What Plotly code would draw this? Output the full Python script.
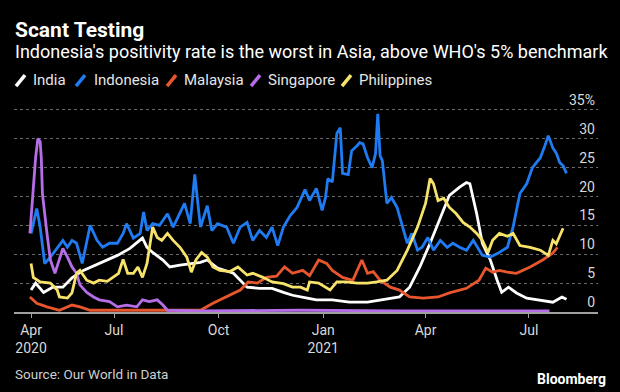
import plotly.graph_objects as go

# ---------------- data ----------------
india_dates = ["2020-04-19","2020-04-23","2020-04-30","2020-05-08","2020-05-17","2020-05-25","2020-06-04","2020-06-18",
               "2020-07-04","2020-07-15","2020-07-21","2020-07-26","2020-07-30","2020-08-04","2020-08-13","2020-08-19",
               "2020-08-28","2020-09-06","2020-09-15","2020-09-21","2020-09-30","2020-10-14","2020-10-26","2020-11-06",
               "2020-11-17","2020-11-27","2020-12-05","2020-12-18","2020-12-26","2021-01-09","2021-01-24","2021-02-09",
               "2021-02-22","2021-03-09","2021-03-18","2021-03-27","2021-04-05","2021-04-14","2021-04-22","2021-05-01",
               "2021-05-07","2021-05-10","2021-05-16","2021-05-21","2021-05-28","2021-06-03","2021-06-07","2021-06-13",
               "2021-06-20","2021-06-29","2021-07-11","2021-07-22","2021-07-30","2021-08-03"]
india_vals = [3.8,5.0,3.4,4.3,4.3,5.9,7.2,8.4,9.8,11.0,11.9,12.8,11.2,10.3,9.0,7.8,8.1,8.4,8.6,9.0,7.6,6.7,4.3,4.1,
              4.1,3.4,2.9,2.4,2.1,2.1,1.7,1.7,2.1,2.6,4.3,7.8,11.9,16.4,20.2,21.6,22.4,22.2,17.0,11.9,9.0,5.5,3.4,4.3,
              3.3,2.4,2.1,1.7,2.6,2.2]

indonesia_dates = ["2020-04-19","2020-04-24","2020-04-27","2020-05-01","2020-05-06","2020-05-17","2020-05-21","2020-05-25",
                   "2020-05-29","2020-06-03","2020-06-10","2020-06-16","2020-06-21","2020-06-27","2020-07-04","2020-07-09",
                   "2020-07-12","2020-07-18","2020-07-24","2020-07-27","2020-07-30","2020-08-04","2020-08-10","2020-08-17",
                   "2020-08-22","2020-08-28","2020-09-01","2020-09-06","2020-09-10","2020-09-15","2020-09-21","2020-09-25",
                   "2020-09-30","2020-10-08","2020-10-14","2020-10-20","2020-10-26","2020-10-31","2020-11-06","2020-11-12",
                   "2020-11-17","2020-11-22","2020-11-27","2020-12-03","2020-12-09","2020-12-16","2020-12-20","2020-12-26",
                   "2020-12-31","2021-01-03","2021-01-05","2021-01-09","2021-01-13","2021-01-16","2021-01-18","2021-01-23",
                   "2021-01-26","2021-01-31","2021-02-02","2021-02-05","2021-02-09","2021-02-13","2021-02-16","2021-02-18",
                   "2021-02-20","2021-02-22","2021-02-26","2021-03-02","2021-03-07","2021-03-11","2021-03-16","2021-03-20",
                   "2021-03-25","2021-03-29","2021-04-03","2021-04-08","2021-04-14","2021-04-20","2021-04-25","2021-05-01",
                   "2021-05-07","2021-05-13","2021-05-17","2021-05-21","2021-05-28","2021-06-04","2021-06-12","2021-06-17",
                   "2021-06-23","2021-06-29","2021-07-04","2021-07-11","2021-07-15","2021-07-18","2021-07-22","2021-07-25",
                   "2021-07-28","2021-07-31","2021-08-03"]
indonesia_vals = [13.6,17.9,14.7,8.4,9.5,12.4,11.2,12.4,11.9,8.4,15.0,12.4,11.2,11.9,11.9,13.6,15.3,12.8,13.6,17.3,14.1,
                  15.3,15.0,17.0,14.7,17.0,18.8,15.3,23.8,14.7,18.4,14.1,15.3,14.7,11.9,14.7,15.5,12.4,14.1,12.9,14.7,11.5,
                  14.7,16.7,18.1,21.2,19.3,21.4,17.6,19.8,23.1,22.5,30.9,31.9,24.0,23.8,27.9,28.8,29.3,29.1,26.7,25.0,27.4,
                  34.3,27.1,26.2,18.8,19.8,18.1,15.3,11.9,13.6,10.7,11.2,12.9,10.7,12.4,11.2,11.9,11.2,10.7,12.4,11.2,9.8,
                  9.5,10.2,11.2,14.7,20.5,22.2,25.0,26.7,28.8,30.5,28.4,27.5,25.9,25.3,24.0]

malaysia_dates = ["2020-04-18","2020-04-24","2020-05-03","2020-05-14","2020-05-25","2020-06-01","2020-06-10","2020-06-27",
                  "2020-08-01","2020-09-15","2020-09-26","2020-10-08","2020-10-20","2020-10-27","2020-11-04","2020-11-12",
                  "2020-11-21","2020-11-28","2020-12-05","2020-12-14","2020-12-20","2020-12-28","2021-01-04","2021-01-09",
                  "2021-01-18","2021-01-27","2021-02-04","2021-02-09","2021-02-14","2021-02-20","2021-03-01","2021-03-09",
                  "2021-03-18","2021-03-30","2021-04-12","2021-04-22","2021-05-07","2021-05-18","2021-05-24","2021-05-30",
                  "2021-06-05","2021-06-12","2021-06-20","2021-07-02","2021-07-13","2021-07-22","2021-07-26"]
malaysia_vals = [2.6,1.5,0.9,0.3,1.2,0.9,0.3,0.3,0.2,0.3,1.5,2.6,3.8,5.2,5.0,6.0,6.2,7.8,6.7,7.2,6.3,9.0,8.4,7.2,6.0,5.5,
                 9.0,6.7,7.0,5.5,4.3,3.8,2.6,2.4,2.6,3.3,4.1,5.5,7.6,6.9,7.2,6.9,6.7,7.8,9.0,10.2,11.2]

singapore_dates = ["2020-04-18","2020-04-21","2020-04-23","2020-04-25","2020-04-27","2020-04-28","2020-04-29","2020-05-03",
                   "2020-05-06","2020-05-10","2020-05-14","2020-05-17","2020-05-21","2020-05-25","2020-05-29","2020-06-01",
                   "2020-06-07","2020-06-13","2020-06-18","2020-06-27","2020-07-04","2020-07-12","2020-07-21","2020-07-26",
                   "2020-08-01","2020-08-08","2020-08-13","2020-08-17","2020-09-15","2020-12-12","2021-03-09","2021-07-19"]
singapore_vals = [13.6,22.2,26.7,30.0,29.5,26.7,20.5,13.6,9.0,6.7,9.0,11.0,9.5,7.8,6.7,4.7,3.4,2.6,2.1,1.8,0.9,1.2,0.9,
                  2.1,1.8,2.1,1.2,0.3,0.2,0.3,0.2,0.2]

philippines_dates = ["2020-04-19","2020-04-21","2020-04-27","2020-05-06","2020-05-12","2020-05-14","2020-05-21","2020-05-25",
                     "2020-05-29","2020-06-01","2020-06-07","2020-06-13","2020-06-18","2020-06-25","2020-06-30","2020-07-05",
                     "2020-07-09","2020-07-13","2020-07-18","2020-07-22","2020-07-26","2020-07-30","2020-08-04","2020-08-08",
                     "2020-08-12","2020-08-17","2020-08-22","2020-08-28","2020-09-03","2020-09-07","2020-09-11","2020-09-16",
                     "2020-09-21","2020-09-26","2020-10-02","2020-10-11","2020-10-18","2020-10-26","2020-10-31","2020-11-09",
                     "2020-11-17","2020-11-27","2020-12-05","2020-12-12","2020-12-18","2020-12-20","2020-12-28","2021-01-07",
                     "2021-01-13","2021-01-21","2021-01-31","2021-02-09","2021-02-17","2021-02-26","2021-03-07","2021-03-16",
                     "2021-03-25","2021-04-01","2021-04-05","2021-04-08","2021-04-12","2021-04-17","2021-04-22","2021-04-28",
                     "2021-05-04","2021-05-10","2021-05-16","2021-05-21","2021-05-26","2021-05-30","2021-06-05","2021-06-12",
                     "2021-06-17","2021-06-23","2021-07-02","2021-07-11","2021-07-18","2021-07-22","2021-07-25","2021-07-28",
                     "2021-07-31"]
philippines_vals = [8.4,6.0,5.2,5.0,3.8,2.6,2.4,3.3,6.7,7.2,5.5,5.0,5.5,5.3,6.0,6.7,9.1,6.7,6.7,7.8,6.0,8.4,14.7,12.9,12.4,
                    13.6,12.4,11.2,9.5,6.9,9.0,10.3,9.5,7.8,7.2,7.0,7.8,6.4,6.7,6.0,5.2,4.9,4.3,4.3,3.8,5.2,5.0,3.8,5.2,
                    5.2,5.0,5.0,5.2,5.5,7.2,10.7,14.7,18.8,23.1,22.2,19.3,19.7,18.1,17.0,15.5,14.7,13.6,12.4,10.3,12.4,13.6,
                    13.1,13.6,11.5,11.2,10.7,9.8,12.4,11.8,13.3,14.5]

series_names = ["India", "Indonesia", "Malaysia", "Singapore", "Philippines"]
y_tick_vals = [0, 5, 10, 15, 20, 25, 30, 35]
y_tick_text = ["0", "5", "10", "15", "20", "25", "30", "35%"]
x_tick_vals = ["2020-04-19", "2020-07-01", "2020-10-01", "2021-01-01", "2021-04-01", "2021-07-01"]
x_tick_text = ["Apr<br>2020", "Jul", "Oct", "Jan<br>2021", "Apr", "Jul"]

# ---------------- styling ----------------
colors = {"India": "#ffffff", "Indonesia": "#1f7bf2", "Malaysia": "#e8562e",
          "Singapore": "#b56ee8", "Philippines": "#f7e36a"}
FONT = "Roboto, Liberation Sans, sans-serif"

# plot area in pixels (y range is extended above 35 so the top label stays inside)
W_FIG, H_FIG = 620, 392
Y_TOP = 38.6
L, R, B = 14, 598, 312
UNIT = 5.78               # pixels per percentage point
T = B - Y_TOP * UNIT
PW, PH = R - L, B - T

def px(x):
    return (x - L) / PW

def py(y):
    return (B - y) / PH

series = {
    "India": (india_dates, india_vals),
    "Indonesia": (indonesia_dates, indonesia_vals),
    "Malaysia": (malaysia_dates, malaysia_vals),
    "Singapore": (singapore_dates, singapore_vals),
    "Philippines": (philippines_dates, philippines_vals),
}

fig = go.Figure()
for name in series_names:
    d, v = series[name]
    fig.add_trace(go.Scatter(x=d, y=v, mode="lines", name=name,
                             line=dict(color=colors[name], width=2.8),
                             showlegend=False, hoverinfo="skip"))

annotations = [
    dict(text="<b>Scant Testing</b>", x=px(13), y=py(30), xref="paper", yref="paper",
         xanchor="left", yanchor="middle", showarrow=False,
         font=dict(family=FONT, size=21, color="#ffffff")),
    dict(text="Indonesia's positivity rate is the worst in Asia, above WHO's 5% benchmark",
         x=px(13), y=py(51), xref="paper", yref="paper",
         xanchor="left", yanchor="middle", showarrow=False,
         font=dict(family=FONT, size=18, color="#ffffff")),
    dict(text="Source: Our World in Data", x=px(13), y=py(374), xref="paper", yref="paper",
         xanchor="left", yanchor="middle", showarrow=False,
         font=dict(family=FONT, size=13.5, color="#cfcfcf")),
    dict(text="<b>Bloomberg</b>", x=px(608), y=py(379), xref="paper", yref="paper",
         xanchor="right", yanchor="middle", showarrow=False,
         font=dict(family=FONT, size=14, color="#ffffff")),
]

shapes = []
legend_icon_x = [15, 75, 166, 250, 341]
legend_text_x = [31, 92, 182, 266, 357]
for name, ix, tx in zip(series_names, legend_icon_x, legend_text_x):
    shapes.append(dict(type="line", xref="paper", yref="paper",
                       x0=px(ix + 1), y0=py(86), x1=px(ix + 10), y1=py(75),
                       line=dict(color=colors[name], width=3.5)))
    annotations.append(dict(text=name, x=px(tx), y=py(80), xref="paper", yref="paper",
                            xanchor="left", yanchor="middle", showarrow=False,
                            font=dict(family=FONT, size=15, color="#e6e6e6")))

fig.update_layout(
    width=W_FIG, height=H_FIG,
    paper_bgcolor="#000000", plot_bgcolor="#000000",
    margin=dict(l=L, r=W_FIG - R, t=T, b=H_FIG - B, autoexpand=False),
    showlegend=False,
    hovermode=False,
    annotations=annotations,
    shapes=shapes,
    xaxis=dict(type="date", range=["2020-04-04", "2021-08-30 17:00"],
               tickvals=x_tick_vals, ticktext=x_tick_text,
               ticks="outside", ticklen=4, tickwidth=1, tickcolor="#a0a0a0",
               showline=True, linecolor="#a0a0a0", linewidth=2,
               showgrid=False, zeroline=False,
               tickfont=dict(family=FONT, size=14, color="#d9d9d9")),
    yaxis=dict(range=[0, Y_TOP], side="right", tickvals=y_tick_vals, ticktext=y_tick_text,
               ticklabelposition="inside top", ticks="",
               showgrid=True, gridcolor="#6a6a6a", griddash="dot", gridwidth=1,
               zeroline=False, showline=False,
               tickfont=dict(family=FONT, size=14, color="#d9d9d9")),
)

fig.write_html("out.html",
               config={"displayModeBar": False, "staticPlot": True},
               post_script="document.body.style.margin='0';document.body.style.background='#000';")
